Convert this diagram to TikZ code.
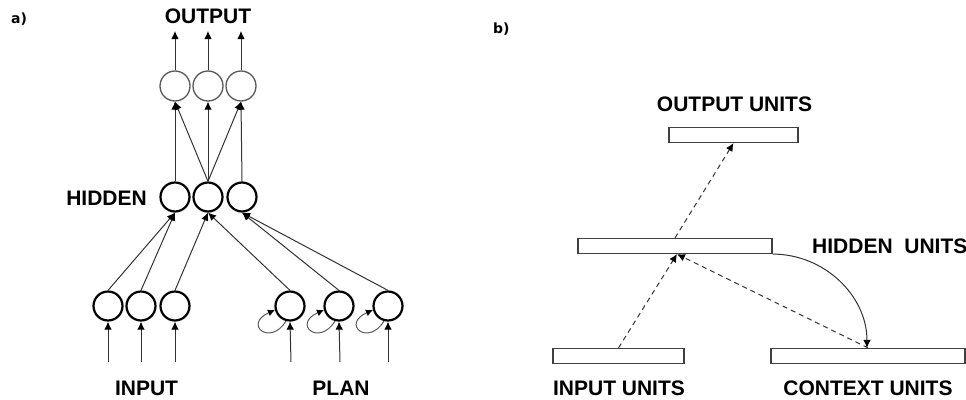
\documentclass[tikz,border=0pt]{standalone}
\usepackage{fontspec}
\setmainfont{Liberation Sans}
\newfontfamily\tagfont{DejaVu Sans}
\usetikzlibrary{arrows.meta}
\begin{document}
\begin{tikzpicture}[x=1pt,y=-1pt,
  unit/.style={circle, draw=black, line width=2.2pt, minimum size=29pt, inner sep=0pt},
  outunit/.style={circle, draw=black!65, line width=1.3pt, minimum size=30pt, inner sep=0pt},
  layer/.style={draw=black!75, line width=1.2pt, fill=white, inner sep=0pt, minimum height=15pt},
  lbl/.style={font=\bfseries\fontsize{21}{21}\selectfont, inner sep=0pt},
  tag/.style={font=\tagfont\bfseries\fontsize{14}{14}\selectfont, inner sep=0pt, anchor=base west},
  link/.style={draw=black!80, line width=1pt, -{Latex[length=8pt,width=7.5pt,black]}},
  loop/.style={draw=black!65, line width=1pt, -{Latex[length=7pt,width=7pt,black]}},
  dlink/.style={link, dash pattern=on 5pt off 4pt},
]
\useasboundingbox (0,0) rectangle (966,399);

% ---------------- a) planning network ----------------
\node[tag] (taga) at (11,23.5) {a)};

% output layer
\node[outunit] (o1) at (175,86) {};
\node[outunit] (o2) at (208,86) {};
\node[outunit] (o3) at (241,86) {};
\coordinate (ot1) at (175,31);
\coordinate (ot2) at (208,31);
\coordinate (ot3) at (241,31);

% hidden layer
\node[unit] (h1) at (175,197) {};
\node[unit] (h2) at (208,197) {};
\node[unit] (h3) at (242,197) {};

% input and plan units
\node[unit] (i1) at (108,306) {};
\node[unit] (i2) at (141,306) {};
\node[unit] (i3) at (175,306) {};
\node[unit] (p1) at (290,306) {};
\node[unit] (p2) at (339,306) {};
\node[unit] (p3) at (388,306) {};
\coordinate (ib1) at (108,362);
\coordinate (ib2) at (141,362);
\coordinate (ib3) at (175,362);
\coordinate (pb1) at (291,362);
\coordinate (pb2) at (340,362);
\coordinate (pb3) at (388,362);

% labels
\node[lbl, anchor=base] (tout) at (208,23) {OUTPUT};
\node[lbl, anchor=base east] (thid) at (147,205) {HIDDEN};
\node[lbl, anchor=base] (tin) at (146.5,395) {INPUT};
\node[lbl, anchor=base] (tplan) at (341,395) {PLAN};

% outputs leaving the network
\draw[link] (o1.north) -- (ot1);
\draw[link] (o2.north) -- (ot2);
\draw[link] (o3.north) -- (ot3);

% hidden to output
\draw[link] (h1.north) -- (o1.south);
\draw[link] (h2.north) -- (o1.south);
\draw[link] (h2.north) -- (o2.south);
\draw[link] (h2.north) -- (o3.south);
\draw[link] (h3.north) -- (o3.south);

% input and plan to hidden
\draw[link] (i1.north) -- (h1.south);
\draw[link] (i2.north) -- (h1.south);
\draw[link] (i3.north) -- (h2.south);
\draw[link] (p1.north) -- (h2.south);
\draw[link] (p2.north) -- (h3.south);
\draw[link] (p3.north) -- (h3.south);

% external inputs
\draw[link] (ib1) -- (i1.south);
\draw[link] (ib2) -- (i2.south);
\draw[link] (ib3) -- (i3.south);
\draw[link] (pb1) -- (p1.south);
\draw[link] (pb2) -- (p2.south);
\draw[link] (pb3) -- (p3.south);

% recurrent self-connections of the plan units
\foreach \p in {p1,p2,p3}
  \draw[loop] (\p.255) .. controls +(-16,26) and +(-32,14) .. (\p.195);

% ---------------- b) simple recurrent network ----------------
\node[tag] (tagb) at (493,33.5) {b)};

\node[layer, minimum width=129pt] (outl) at (733.5,135) {};
\node[layer, minimum width=194pt] (hidl) at (675,246) {};
\node[layer, minimum width=131pt] (inl) at (618.5,356) {};
\node[layer, minimum width=194pt] (ctxl) at (868,356) {};

\node[lbl, anchor=base] (tou) at (734.5,111) {OUTPUT UNITS};
\node[lbl, anchor=base west] (thu) at (812,253) {HIDDEN\ \ UNITS};
\node[lbl, anchor=base] (tiu) at (619,395) {INPUT UNITS};
\node[lbl, anchor=base] (tcu) at (868,395) {CONTEXT UNITS};

\draw[dlink] (inl.north) -- ([xshift=2pt]hidl.south);
\draw[dlink] (ctxl.north) -- ([xshift=2pt]hidl.south);
\draw[dlink] (hidl.north) -- (outl.south);
\draw[link] (hidl.south east) to[out=0,in=90] ([xshift=-1pt]ctxl.north);

\end{tikzpicture}
\end{document}
